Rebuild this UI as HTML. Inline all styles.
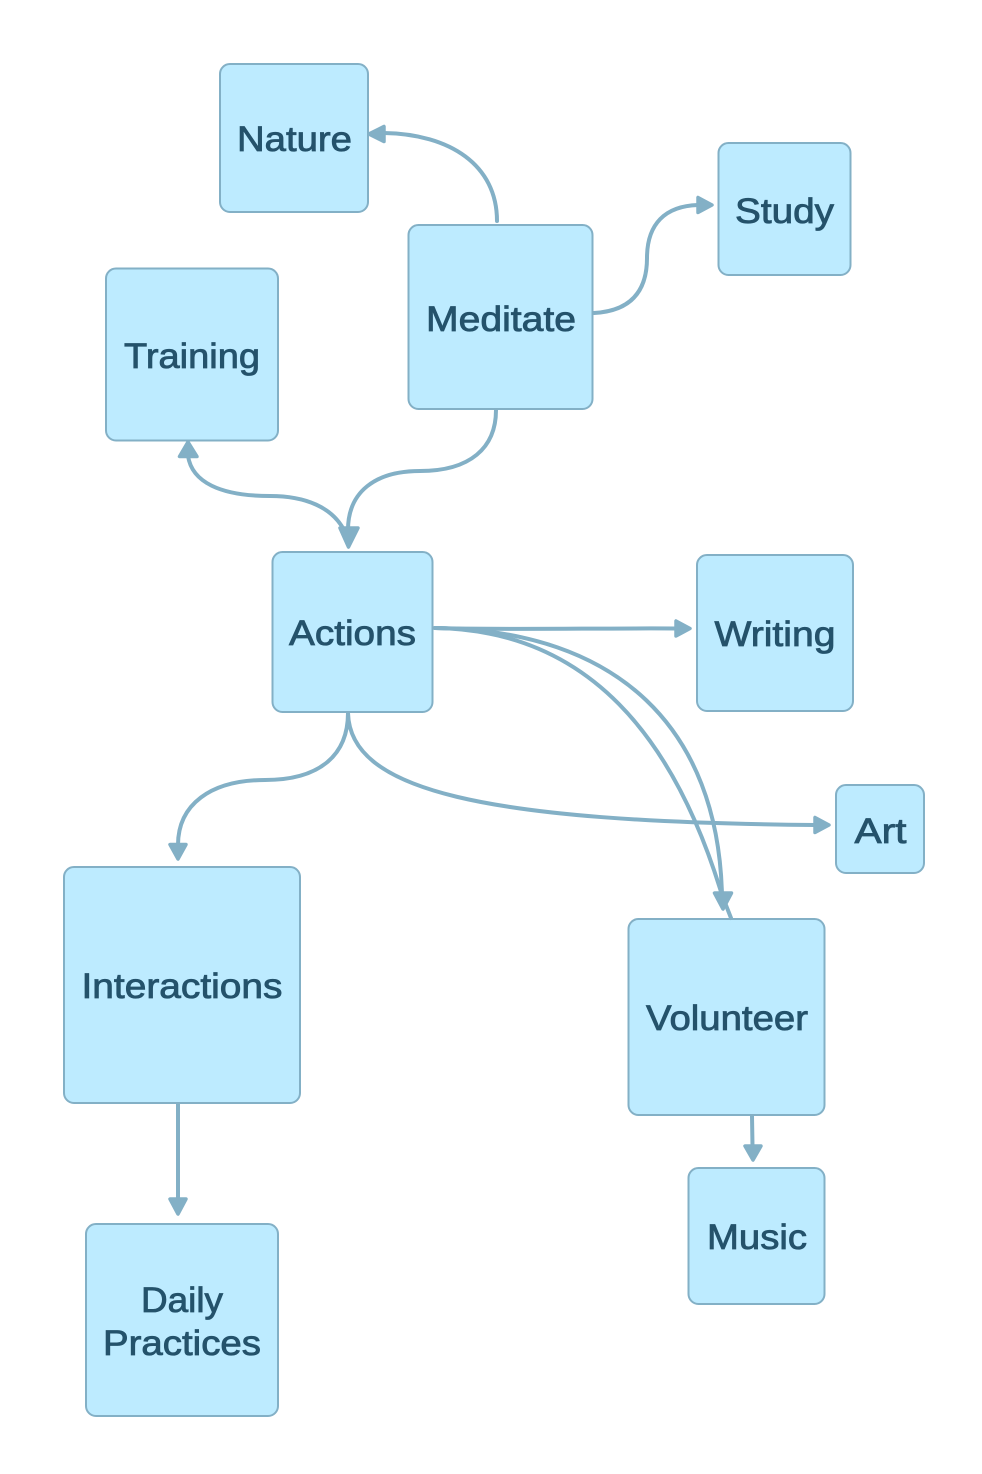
<!DOCTYPE html>
<html>
<head>
<meta charset="utf-8">
<style>
html,body{margin:0;padding:0;background:#fff;width:982px;height:1474px;overflow:hidden}
svg{display:block}
.n{fill:#bdebff;stroke:#83b0c6;stroke-width:2}
.e{fill:none;stroke:#83b0c6;stroke-width:4;stroke-linecap:round}
.a{fill:#83b0c6;stroke:#83b0c6;stroke-width:3.5;stroke-linejoin:round}
text{font-family:"Liberation Sans",sans-serif;font-size:35px;fill:#24526b;stroke:#24526b;stroke-width:.8px;text-anchor:middle}
</style>
</head>
<body>
<svg width="982" height="1474" viewBox="0 0 982 1474" xmlns="http://www.w3.org/2000/svg">
<rect class="n" x="220" y="64" width="148" height="148" rx="10"/>
<rect class="n" x="718.500" y="143" width="132" height="132" rx="10"/>
<rect class="n" x="408.500" y="225" width="184" height="184" rx="10"/>
<rect class="n" x="106" y="268.500" width="172" height="172" rx="10"/>
<rect class="n" x="272.500" y="552" width="160" height="160" rx="10"/>
<rect class="n" x="697" y="555" width="156" height="156" rx="10"/>
<rect class="n" x="836" y="785" width="88" height="88" rx="10"/>
<rect class="n" x="64" y="867" width="236" height="236" rx="10"/>
<rect class="n" x="628.500" y="919" width="196" height="196" rx="10"/>
<rect class="n" x="688.500" y="1168" width="136" height="136" rx="10"/>
<rect class="n" x="86" y="1224" width="192" height="192" rx="10"/>

<path class="e" d="M497 221C497 165 450 134 384 133"/>
<path class="a" d="M369 134L384 126.500V141.500Z"/>
<path class="e" d="M594 313C630 311 647 292 647 258C647 224 665 206 698 205"/>
<path class="a" d="M712 205L698 197.500V212.500Z"/>
<path class="e" d="M496 410C496 448 470 471 420 471C375 471 348 492 348 530"/>
<path class="e" d="M188 456C192 482 220 496 270 496C305 496 333 507 345 532"/>
<path class="a" d="M188 442L179.500 456.500H197Z"/>
<path class="a" d="M348.500 547L340 528H358Z"/>
<path class="e" d="M435 628C500 630 600 628 676 628.500"/>
<path class="a" d="M690 628.500L676 621V636Z"/>
<path class="e" d="M435 628C590 630 675 740 722 895"/>
<path class="e" d="M435 628C620 630 718 730 722 895L731 918"/>
<path class="a" d="M723 909L714.500 893H731.500Z"/>
<path class="e" d="M348 713C350 790 480 822 815 825"/>
<path class="a" d="M829 825L815 817.500V832.500Z"/>
<path class="e" d="M348 713C348 755 320 780 265 780C210 780 178 805 178 845"/>
<path class="a" d="M178 859L170 844.500H186Z"/>
<path class="e" d="M178 1104V1200"/>
<path class="a" d="M178 1214L170 1199H186Z"/>
<path class="e" d="M752 1116L752.500 1146"/>
<path class="a" d="M753 1160L745 1146H761Z"/>

<text x="294.500" y="151" textLength="115" lengthAdjust="spacingAndGlyphs">Nature</text>
<text x="784.500" y="223" textLength="99" lengthAdjust="spacingAndGlyphs">Study</text>
<text x="501" y="331" textLength="150" lengthAdjust="spacingAndGlyphs">Meditate</text>
<text x="192" y="368" textLength="136" lengthAdjust="spacingAndGlyphs">Training</text>
<text x="352.500" y="645" textLength="127" lengthAdjust="spacingAndGlyphs">Actions</text>
<text x="775" y="646" textLength="121" lengthAdjust="spacingAndGlyphs">Writing</text>
<text x="880.500" y="843" textLength="52" lengthAdjust="spacingAndGlyphs">Art</text>
<text x="182" y="998" textLength="201" lengthAdjust="spacingAndGlyphs">Interactions</text>
<text x="727" y="1030" textLength="162" lengthAdjust="spacingAndGlyphs">Volunteer</text>
<text x="757" y="1249" textLength="100" lengthAdjust="spacingAndGlyphs">Music</text>
<text x="182" y="1312" textLength="82" lengthAdjust="spacingAndGlyphs">Daily</text>
<text x="182" y="1355" textLength="158" lengthAdjust="spacingAndGlyphs">Practices</text>
</svg>
</body>
</html>
